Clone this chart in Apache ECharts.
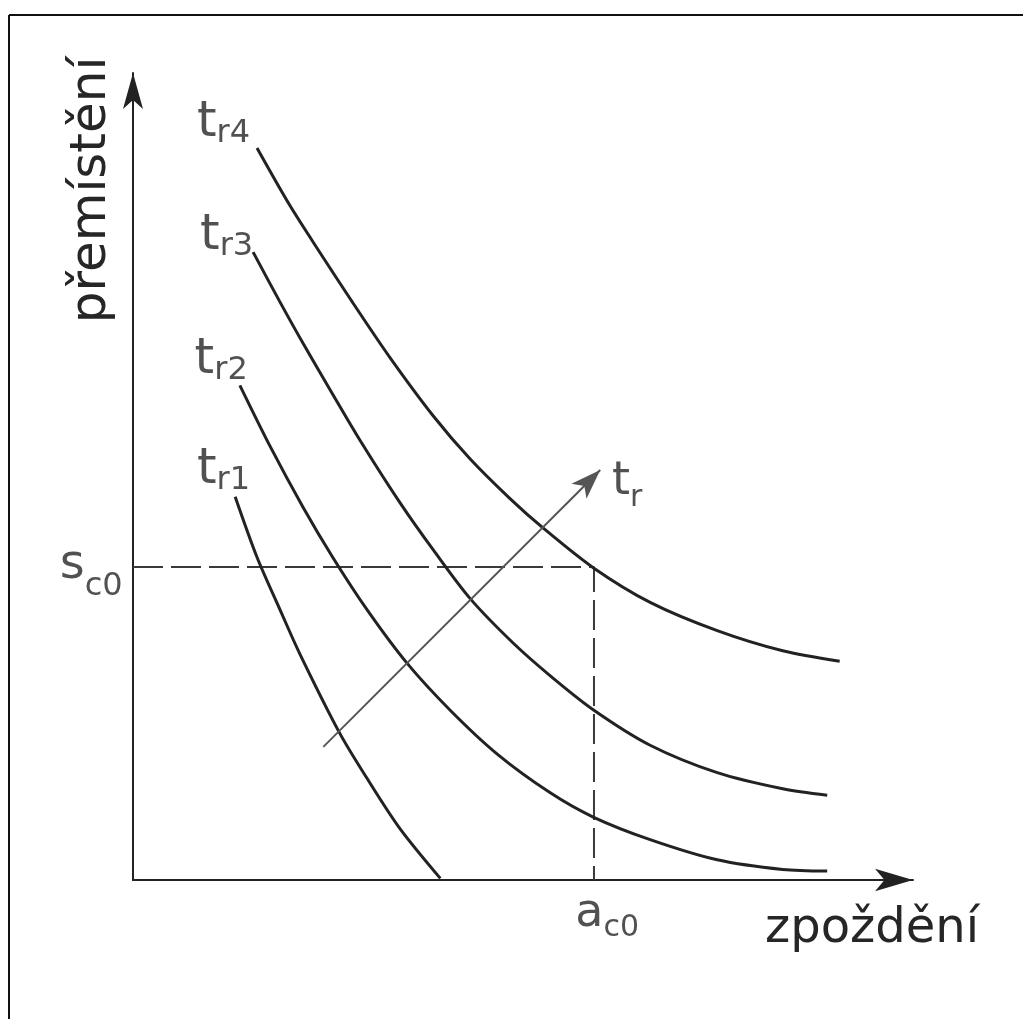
<!DOCTYPE html>
<html>
<head>
<meta charset="utf-8">
<script src="https://cdn.jsdelivr.net/npm/echarts@6/dist/echarts.min.js"></script>
<style>
html,body{margin:0;padding:0;background:#fff;}
#chart{width:1023px;height:1019px;}
</style>
</head>
<body>
<div id="chart"></div>
<script>
// ---- data (abstract units) ----
const curveNames = ['tr1', 'tr2', 'tr3', 'tr4'];
const tr1 = [[1.31,4.75],[1.59,4.00],[1.88,3.36],[2.14,2.80],[2.65,1.82],[3.00,1.26],[3.42,0.64],[3.94,0.02]];
const tr2 = [[1.37,6.13],[1.76,5.37],[2.18,4.62],[2.56,4.00],[3.00,3.35],[3.51,2.69],[4.06,2.11],[4.67,1.56],[5.35,1.08],[5.90,0.78],[6.63,0.50],[7.49,0.25],[8.33,0.13],[8.90,0.11]];
const tr3 = [[1.54,7.78],[1.88,7.17],[2.18,6.65],[2.53,6.07],[2.91,5.45],[3.42,4.68],[3.85,4.09],[4.32,3.49],[4.87,2.94],[5.35,2.53],[5.90,2.11],[6.63,1.67],[7.49,1.33],[8.33,1.13],[8.90,1.05]];
const tr4 = [[1.59,9.07],[2.01,8.36],[2.40,7.77],[2.82,7.15],[3.29,6.48],[3.85,5.75],[4.32,5.22],[4.83,4.73],[5.26,4.36],[5.90,3.87],[6.63,3.44],[7.49,3.09],[8.33,2.84],[9.06,2.71]];
const curves = [tr1, tr2, tr3, tr4];

const sc0 = 3.88;   // reference displacement
const ac0 = 5.91;   // reference delay
const trArrowStart = [2.44, 1.65];
const trArrowEnd = [5.99, 5.08];

// labels: main letter, subscript, anchor (left, bottom) in data units
const labelMain = ['t', 't', 't', 't', 's', 'a', 't'];
const labelSub  = ['r1', 'r2', 'r3', 'r4', 'c0', 'c0', 'r'];
const labelX    = [0.82, 0.79, 0.86, 0.82, -0.94, 5.67, 6.14];
const labelY    = [4.75, 6.11, 7.65, 9.05, 3.44, -0.78, 4.55];

const xTitle = 'zpoždění';
const yTitle = 'přemístění';

// ---- styles ----
const ink = '#222';
const textInk = '#262626';
const font = 'DejaVu Sans';
const labelStyle = [
  {main: 50, sub: 32, pad: 2},
  {main: 50, sub: 32, pad: 2},
  {main: 50, sub: 32, pad: 2},
  {main: 50, sub: 32, pad: 2},
  {main: 48, sub: 32, pad: 13},
  {main: 46, sub: 30, pad: 6},
  {main: 46, sub: 30, pad: 8}
];

const chart = echarts.init(document.getElementById('chart'), null, {renderer: 'canvas'});

const series = curves.map((pts, i) => ({
  name: curveNames[i],
  type: 'line',
  data: pts,
  smooth: 0.3,
  symbol: 'none',
  clip: false,
  lineStyle: {color: ink, width: 3},
  z: 3
}));

series.push({
  name: 'sc0',
  type: 'line',
  data: [[0, sc0], [ac0, sc0], [ac0, 0]],
  symbol: 'none',
  lineStyle: {color: '#3a3a3a', width: 2, type: [30, 8]},
  z: 2
});

series.push({
  name: 'tr',
  type: 'line',
  data: [],
  markLine: {
    silent: true,
    symbol: ['none', 'arrow'],
    symbolSize: [16, 30],
    label: {show: false},
    lineStyle: {color: '#555', width: 2, type: 'solid'},
    data: [[{coord: trArrowStart}, {coord: trArrowEnd}]]
  }
});

series.push({
  name: 'labels',
  type: 'scatter',
  symbolSize: 0,
  clip: false,
  silent: true,
  data: labelMain.map((m, i) => ({
    value: [labelX[i], labelY[i]],
    label: {
      show: true,
      position: [0, 0],
      align: 'left',
      verticalAlign: 'bottom',
      formatter: '{m|' + m + '}{s|' + labelSub[i] + '}',
      rich: {
        m: {fontFamily: font, fontSize: labelStyle[i].main, lineHeight: labelStyle[i].main,
            color: textInk, verticalAlign: 'bottom', padding: [0, 0, labelStyle[i].pad, 0]},
        s: {fontFamily: font, fontSize: labelStyle[i].sub, lineHeight: labelStyle[i].sub,
            color: textInk, verticalAlign: 'bottom'}
      }
    }
  }))
});

const axisCommon = {
  type: 'value',
  min: 0,
  max: 10,
  axisTick: {show: false},
  axisLabel: {show: false},
  splitLine: {show: false}
};

chart.setOption({
  animation: false,
  backgroundColor: '#fff',
  grid: {left: 133, right: 110, top: 73, bottom: 139, containLabel: false},
  xAxis: Object.assign({}, axisCommon, {
    axisLine: {show: true, onZero: false, symbol: ['none', 'arrow'], symbolSize: [17, 38], symbolOffset: [0, 0],
      lineStyle: {color: ink, width: 2}}
  }),
  yAxis: Object.assign({}, axisCommon, {
    axisLine: {show: true, onZero: false, symbol: ['none', 'arrow'], symbolSize: [15, 36], symbolOffset: [0, 0],
      lineStyle: {color: ink, width: 2}}
  }),
  graphic: [
    {type: 'line', shape: {x1: 9, y1: 15, x2: 9, y2: 1019}, style: {stroke: '#111', lineWidth: 2}},
    {type: 'line', shape: {x1: 9, y1: 15, x2: 1023, y2: 15}, style: {stroke: '#111', lineWidth: 2}},
    {type: 'text', x: 92, y: 190, rotation: Math.PI / 2,
      style: {text: yTitle, font: '50px "DejaVu Sans"', fill: textInk, textAlign: 'center', textVerticalAlign: 'middle'}},
    {type: 'text', x: 765, y: 954,
      style: {text: xTitle, font: '48px "DejaVu Sans"', fill: textInk, textAlign: 'left', textVerticalAlign: 'bottom'}}
  ],
  series: series
});
</script>
</body>
</html>
